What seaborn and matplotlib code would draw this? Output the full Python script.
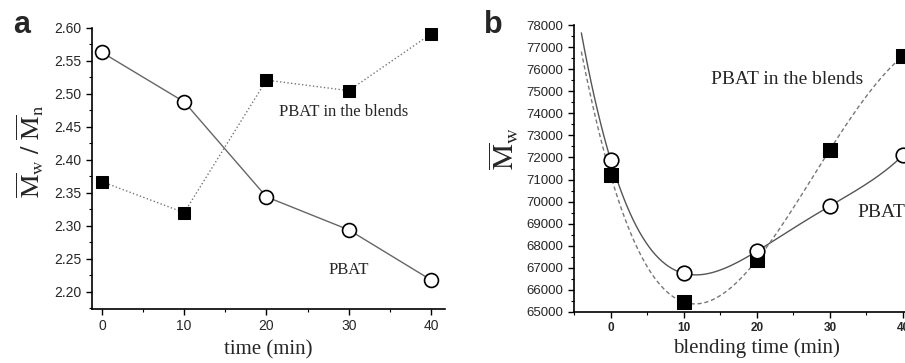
import numpy as np
import pandas as pd
import matplotlib
matplotlib.use("Agg")
import matplotlib.pyplot as plt
import seaborn as sns
from matplotlib.ticker import MultipleLocator

# ---- data ----
time_a = [0, 10, 20, 30, 40]
ratio_pbat = [2.563, 2.488, 2.344, 2.294, 2.218]
ratio_blend = [2.367, 2.320, 2.521, 2.505, 2.591]

time_b = [0, 10, 20, 30, 40]
mw_pbat = [71900, 66750, 67750, 69800, 72100]
mw_blend = [71200, 65450, 67350, 72350, 76600]

xticks = [0, 10, 20, 30, 40]
yticks_a = [2.20, 2.25, 2.30, 2.35, 2.40, 2.45, 2.50, 2.55, 2.60]
yticks_b = list(range(65000, 78001, 1000))

sns.set_theme(style="ticks")
plt.rcParams["font.family"] = ["Liberation Sans", "DejaVu Sans"]
plt.rcParams["mathtext.fontset"] = "stix"

fig = plt.figure(figsize=(9.05, 3.63), dpi=100)
ax1 = fig.add_axes([0.1017, 0.1488, 0.39, 0.7741])
ax2 = fig.add_axes([0.6343, 0.1405, 0.4039, 0.7906])

serif = ["Liberation Serif", "DejaVu Serif"]

# ---- panel a ----
dfa = pd.DataFrame({"t": time_a, "pbat": ratio_pbat, "blend": ratio_blend})
sns.lineplot(data=dfa, x="t", y="pbat", ax=ax1, color="#666666", lw=1.0,
             marker="o", markersize=10, markerfacecolor="white",
             markeredgecolor="black", markeredgewidth=1.2)
sns.lineplot(data=dfa, x="t", y="blend", ax=ax1, color="#777777", lw=1.0,
             linestyle=":", marker="s", markersize=9, markerfacecolor="black",
             markeredgecolor="black")
ax1.set_xlim(-1.2, 41.7)
ax1.set_ylim(2.174, 2.60)
ax1.set_xticks(xticks)
ax1.set_yticks(yticks_a)
ax1.set_yticklabels([f"{v:.2f}" for v in yticks_a])
ax1.xaxis.set_minor_locator(MultipleLocator(5))
ax1.yaxis.set_minor_locator(MultipleLocator(0.025))
ax1.set_xlabel("time (min)", family=serif, fontsize=15, labelpad=5)
ax1.set_ylabel(r"$\overline{\mathrm{M}}_{\mathrm{w}}\ /\ \overline{\mathrm{M}}_{\mathrm{n}}$",
               fontsize=19, labelpad=6)
ax1.yaxis.set_label_coords(-0.13, 0.56)
ax1.text(29.4, 2.473, "PBAT in the blends", family=serif, fontsize=12,
         ha="center", va="center")
ax1.text(30.0, 2.233, "PBAT", family=serif, fontsize=12, ha="center", va="center")

# ---- panel b ----
dfb = pd.DataFrame({"t": time_b, "pbat": mw_pbat, "blend": mw_blend})
xs = np.linspace(-4, 40, 200)
fit_p = np.polyval(np.polyfit(time_b, mw_pbat, 4), xs)
fit_b = np.polyval(np.polyfit(time_b, mw_blend, 4), xs)
sns.lineplot(x=xs, y=fit_p, ax=ax2, color="#555555", lw=1.0)
sns.lineplot(x=xs, y=fit_b, ax=ax2, color="#777777", lw=1.0, linestyle=(0, (3, 2)))
sns.scatterplot(data=dfb, x="t", y="blend", ax=ax2, marker="s", s=90,
                color="black", edgecolor="black", zorder=5)
sns.scatterplot(data=dfb, x="t", y="pbat", ax=ax2, marker="o", s=110,
                facecolor="white", edgecolor="black", linewidth=1.2, zorder=6)
ax2.set_xlim(-5, 45)
ax2.set_ylim(65000, 78000)
ax2.set_xticks(xticks)
ax2.set_yticks(yticks_b)
ax2.xaxis.set_minor_locator(MultipleLocator(5))
ax2.yaxis.set_minor_locator(MultipleLocator(500))
for lab in ax2.get_xticklabels():
    lab.set_fontweight("bold")
ax2.tick_params(axis="x", labelsize=8.5)
ax2.tick_params(axis="y", labelsize=9.5)
ax2.set_xlabel("blending time (min)", family=serif, fontsize=15, labelpad=3)
ax2.set_ylabel(r"$\overline{\mathrm{M}}_{\mathrm{w}}$", fontsize=21, labelpad=4)
ax2.yaxis.set_label_coords(-0.145, 0.57)
ax2.text(24.2, 75510, "PBAT in the blends", family=serif, fontsize=14,
         ha="center", va="center")
ax2.text(33.7, 69485, "PBAT", family=serif, fontsize=14, ha="left", va="center")

for ax in (ax1, ax2):
    sns.despine(ax=ax)
    ax.tick_params(which="major", direction="out", length=4, width=1.0, color="black")
    ax.tick_params(which="minor", direction="out", length=2, width=0.8, color="black")
    for sp in ("left", "bottom"):
        ax.spines[sp].set_color("black")
        ax.spines[sp].set_linewidth(1.2)
ax1.tick_params(labelsize=10)

fig.text(0.014, 0.909, "a", fontsize=22, fontweight="bold", va="baseline")
fig.text(0.535, 0.909, "b", fontsize=22, fontweight="bold", va="baseline")

fig.savefig("out.png", dpi=100)
